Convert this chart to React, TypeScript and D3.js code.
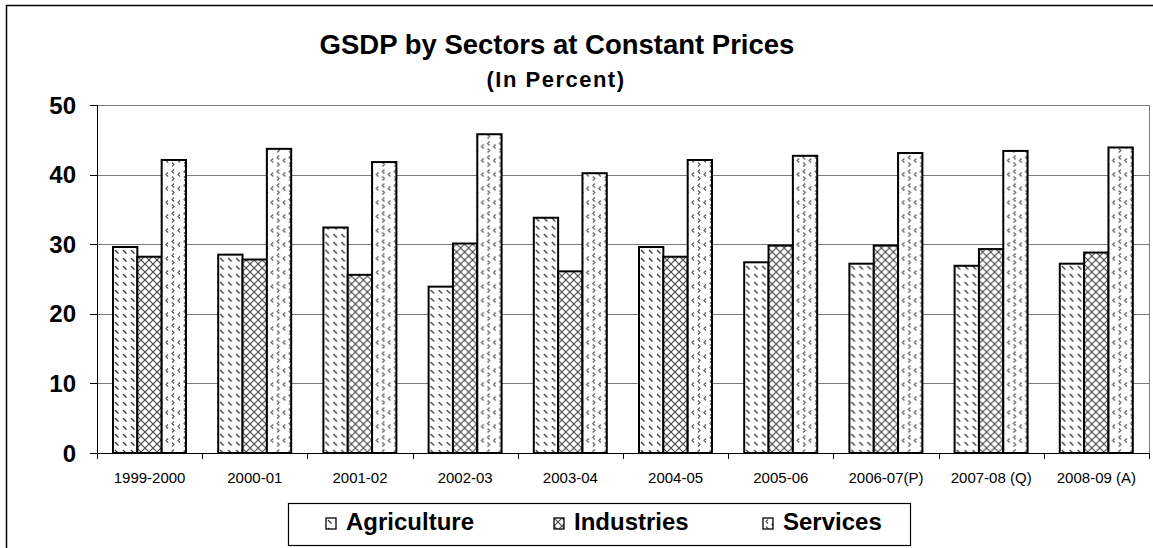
import * as d3 from 'd3'
import { useEffect, useRef } from 'react'

const categories = [
  '1999-2000',
  '2000-01',
  '2001-02',
  '2002-03',
  '2003-04',
  '2004-05',
  '2005-06',
  '2006-07(P)',
  '2007-08 (Q)',
  '2008-09 (A)',
]
const agriculture = [29.6, 28.5, 32.4, 23.9, 33.8, 29.6, 27.4, 27.2, 26.9, 27.2]
const industries = [28.2, 27.8, 25.6, 30.1, 26.1, 28.2, 29.8, 29.8, 29.3, 28.8]
const services = [42.1, 43.7, 41.8, 45.8, 40.2, 42.1, 42.7, 43.1, 43.4, 43.9]
const seriesNames = ['Agriculture', 'Industries', 'Services']
const yTicks = [0, 10, 20, 30, 40, 50]

const W = 1153
const H = 548
const FONT = 'Arial, "Liberation Sans", Helvetica, sans-serif'

export default function App() {
  const svgRef = useRef<SVGSVGElement>(null)

  useEffect(() => {
    if (!svgRef.current) return
    const svg = d3.select(svgRef.current)
    svg.selectAll('*').remove()

    const left = 97
    const right = 1149
    const top = 105
    const bottom = 453

    const defs = svg.append('defs')

    // Agriculture: short backslash dashes
    const pa = defs
      .append('pattern')
      .attr('id', 'pat-agri')
      .attr('patternUnits', 'userSpaceOnUse')
      .attr('width', 8)
      .attr('height', 8)
    pa.append('rect').attr('width', 8).attr('height', 8).attr('fill', '#fff')
    pa.append('path')
      .attr('d', 'M2,2 L5.5,5.5')
      .attr('stroke', '#333')
      .attr('stroke-width', 1.3)

    // Industries: diagonal cross hatch
    const pi = defs
      .append('pattern')
      .attr('id', 'pat-ind')
      .attr('patternUnits', 'userSpaceOnUse')
      .attr('width', 8)
      .attr('height', 8)
    pi.append('rect').attr('width', 8).attr('height', 8).attr('fill', '#fff')
    pi.append('path')
      .attr('d', 'M0,0 L8,8 M8,0 L0,8')
      .attr('stroke', '#444')
      .attr('stroke-width', 1.1)

    // Services: little chevrons
    const ps = defs
      .append('pattern')
      .attr('id', 'pat-serv')
      .attr('patternUnits', 'userSpaceOnUse')
      .attr('width', 12)
      .attr('height', 14)
    ps.append('rect').attr('width', 12).attr('height', 14).attr('fill', '#fff')
    ps.append('path')
      .attr('d', 'M5,1.5 L3,3.5 L5,5.5 M3,8.5 L5,10.5 L3,12.5 M11,4.5 L9,6.5 L11,8.5')
      .attr('stroke', '#555')
      .attr('stroke-width', 1.2)
      .attr('fill', 'none')

    const fills = ['url(#pat-agri)', 'url(#pat-ind)', 'url(#pat-serv)']

    // outer chart border (runs off the right/bottom edge)
    svg.append('rect')
      .attr('x', 6.5)
      .attr('y', 5.5)
      .attr('width', 1300)
      .attr('height', 700)
      .attr('fill', '#fff')
      .attr('stroke', '#000')
      .attr('stroke-width', 1.5)

    const x = d3.scaleBand<string>().domain(categories).range([left, right]).padding(0)
    const inner = d3
      .scaleBand<string>()
      .domain(seriesNames)
      .range([16, 89])
      .padding(0)
    const y = d3.scaleLinear().domain([0, 50]).range([bottom, top])

    // gridlines
    svg.append('g')
      .selectAll('line')
      .data(yTicks.filter((t) => t > 0))
      .join('line')
      .attr('x1', left)
      .attr('x2', right)
      .attr('y1', (d) => Math.round(y(d)) + 0.5)
      .attr('y2', (d) => Math.round(y(d)) + 0.5)
      .attr('stroke', '#7a7a7a')
      .attr('stroke-width', 1)

    svg.append('line')
      .attr('x1', right + 0.5)
      .attr('x2', right + 0.5)
      .attr('y1', top)
      .attr('y2', bottom)
      .attr('stroke', '#7a7a7a')

    // bars
    const data = categories.map((c, i) => ({
      cat: c,
      vals: [agriculture[i], industries[i], services[i]],
    }))
    const groups = svg.append('g')
      .selectAll('g')
      .data(data)
      .join('g')
      .attr('transform', (d) => `translate(${x(d.cat)},0)`)
    groups
      .selectAll('rect')
      .data((d) => d.vals.map((v, j) => ({ v, name: seriesNames[j], j })))
      .join('rect')
      .attr('x', (d) => inner(d.name)!)
      .attr('width', inner.bandwidth())
      .attr('y', (d) => y(d.v))
      .attr('height', (d) => y(0) - y(d.v))
      .attr('fill', (d) => fills[d.j])
      .attr('stroke', '#000')
      .attr('stroke-width', 2)

    // y axis
    svg.append('line')
      .attr('x1', left + 0.5)
      .attr('x2', left + 0.5)
      .attr('y1', top)
      .attr('y2', bottom)
      .attr('stroke', '#000')
    const yt = svg.append('g').selectAll('g').data(yTicks).join('g')
    yt.append('line')
      .attr('x1', left - 7)
      .attr('x2', left)
      .attr('y1', (d) => Math.round(y(d)) + 0.5)
      .attr('y2', (d) => Math.round(y(d)) + 0.5)
      .attr('stroke', '#000')
    yt.append('text')
      .attr('x', 76)
      .attr('y', (d) => y(d) + 8.5)
      .attr('text-anchor', 'end')
      .attr('font-family', FONT)
      .attr('font-weight', 'bold')
      .attr('font-size', 24)
      .text((d) => d)

    // x axis
    svg.append('line')
      .attr('x1', left)
      .attr('x2', right + 1)
      .attr('y1', bottom + 0.5)
      .attr('y2', bottom + 0.5)
      .attr('stroke', '#000')
    const edges = categories.map((c) => x(c)!).concat([right])
    svg.append('g')
      .selectAll('line')
      .data(edges)
      .join('line')
      .attr('x1', (d) => Math.round(d) + 0.5)
      .attr('x2', (d) => Math.round(d) + 0.5)
      .attr('y1', bottom)
      .attr('y2', bottom + 6)
      .attr('stroke', '#000')
    svg.append('g')
      .selectAll('text')
      .data(categories)
      .join('text')
      .attr('x', (d) => x(d)! + x.bandwidth() / 2)
      .attr('y', 483)
      .attr('text-anchor', 'middle')
      .attr('font-family', FONT)
      .attr('font-size', 15)
      .text((d) => d)

    // title
    svg.append('text')
      .attr('x', 557)
      .attr('y', 54)
      .attr('text-anchor', 'middle')
      .attr('font-family', FONT)
      .attr('font-weight', 'bold')
      .attr('font-size', 27.5)
      .text('GSDP by Sectors at Constant Prices')
    svg.append('text')
      .attr('x', 556)
      .attr('y', 87)
      .attr('text-anchor', 'middle')
      .attr('font-family', FONT)
      .attr('font-weight', 'bold')
      .attr('font-size', 22)
      .attr('letter-spacing', 1.5)
      .text('(In Percent)')

    // legend
    svg.append('rect')
      .attr('x', 288.5)
      .attr('y', 503.5)
      .attr('width', 622)
      .attr('height', 42)
      .attr('fill', '#fff')
      .attr('stroke', '#000')
      .attr('stroke-width', 1.2)
    const legendX = [326, 554, 763]
    const li = svg.append('g')
      .selectAll('g')
      .data(seriesNames)
      .join('g')
      .attr('transform', (_d, i) => `translate(${legendX[i]},518)`)
    li.append('rect')
      .attr('width', 10)
      .attr('height', 11)
      .attr('fill', (_d, i) => fills[i])
      .attr('stroke', '#000')
      .attr('stroke-width', 1.3)
    li.append('text')
      .attr('x', 20)
      .attr('y', 12)
      .attr('font-family', FONT)
      .attr('font-weight', 'bold')
      .attr('font-size', 24)
      .text((d) => d)
  }, [])

  return (
    <svg
      ref={svgRef}
      width={W}
      height={H}
      style={{ position: 'absolute', left: 0, top: 0, background: '#fff' }}
    />
  )
}
